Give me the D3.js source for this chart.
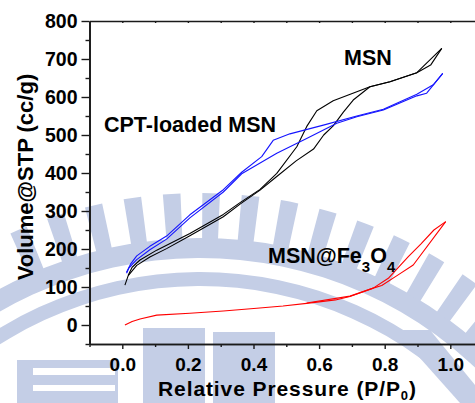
<!DOCTYPE html>
<html><head><meta charset="utf-8">
<script src="https://cdn.jsdelivr.net/npm/d3@7"></script>
<style>body{margin:0;background:#fff}svg{display:block}text{font-family:"Liberation Sans",Arial,sans-serif;font-weight:bold}</style>
</head><body>
<svg id="c" width="475" height="403"></svg>
<script>
// ---- data (P/P0, volume cc/g) ----
const xTickValues = [0, 0.2, 0.4, 0.6, 0.8, 1.0];
const yTickValues = [0, 100, 200, 300, 400, 500, 600, 700, 800];
const msnAds = [[0.008,105],[0.018,130],[0.044,157],[0.084,179],[0.135,201],[0.206,235],[0.308,285],[0.359,318],[0.42,355],[0.47,390],[0.53,432],[0.583,463],[0.614,500],[0.643,524],[0.674,560],[0.704,592],[0.755,627],[0.816,640],[0.898,664],[0.94,684],[0.974,728]];
const msnDes = [[0.974,728],[0.898,664],[0.816,640],[0.755,627],[0.695,607],[0.643,590],[0.593,564],[0.562,522],[0.532,469],[0.471,399],[0.42,357],[0.359,322],[0.308,291],[0.206,241],[0.105,197],[0.054,171],[0.03,152],[0.018,131]];
const cptAds = [[0.013,136],[0.02,150],[0.044,172],[0.084,198],[0.135,226],[0.206,282],[0.308,350],[0.364,398],[0.471,452],[0.562,491],[0.654,531],[0.715,548],[0.796,566],[0.898,603],[0.928,610],[0.977,662]];
const cptDes = [[0.977,662],[0.948,632],[0.898,607],[0.796,568],[0.715,550],[0.613,526],[0.511,503],[0.46,486],[0.425,443],[0.364,402],[0.308,356],[0.206,290],[0.135,234],[0.084,207],[0.044,182],[0.025,160],[0.013,139]];
const fe3o4Ads = [[0.008,0],[0.03,9],[0.054,16],[0.105,26],[0.206,31],[0.308,37],[0.41,44],[0.49,50],[0.562,57],[0.65,66],[0.694,75],[0.765,97],[0.791,104],[0.841,132],[0.887,158],[0.986,272]];
const fe3o4Des = [[0.986,272],[0.95,250],[0.91,213],[0.872,180],[0.811,123],[0.765,97],[0.694,76],[0.562,58]];
const seriesList = [
  {name:"MSN", color:"#000000", branches:[msnAds, msnDes]},
  {name:"CPT-loaded MSN", color:"#1414ff", branches:[cptAds, cptDes]},
  {name:"MSN@Fe3O4", color:"#ff0000", branches:[fe3o4Ads, fe3o4Des]}
];

const svg = d3.select("#c");
const x = d3.scaleLinear().domain([-0.1, 1.1]).range([89.5, 483.1]);
const y = d3.scaleLinear().domain([-50, 800]).range([344, 21]);

// ---- faint background watermark (decorative) ----
const wmColor = "#c4cee6";
const wm = svg.append("g").attr("fill", wmColor);
const wmArc = wm.append("g").attr("transform", "translate(200,658)");
wmArc.append("path").attr("d", d3.arc()({innerRadius:400, outerRadius:420, startAngle:-0.75, endAngle:0.95}));
wmArc.append("path").attr("d", d3.arc()({innerRadius:372, outerRadius:386, startAngle:-0.75, endAngle:0.95}));
d3.range(-0.42, 0.80, 0.085).forEach(a => {
  wmArc.append("path").attr("d", d3.arc()({innerRadius:419, outerRadius:465, startAngle:a, endAngle:a+0.038}));
});
wm.append("rect").attr("x",143).attr("y",328).attr("width",62).attr("height",80);
wm.append("rect").attr("x",213).attr("y",332).attr("width",62).attr("height",80);
wm.append("rect").attr("x",17).attr("y",360).attr("width",101).attr("height",50);
wm.append("rect").attr("x",33).attr("y",368).attr("width",82).attr("height",7).attr("fill","#fff");
wm.append("rect").attr("x",33).attr("y",385).attr("width",82).attr("height",6).attr("fill","#fff");
wm.append("path").attr("d","M395,330 L430,330 L475,385 L475,403 L460,403 Z");

// ---- axes ----
const axisColor = "#1a1a1a";
const gx = svg.append("g").attr("transform", `translate(0,${y(-50)})`)
  .call(d3.axisBottom(x).tickValues(xTickValues).tickFormat(d3.format(".1f")).tickSizeInner(5).tickSizeOuter(0).tickPadding(9));
const gxm = svg.append("g").attr("transform", `translate(0,${y(-50)})`)
  .call(d3.axisBottom(x).tickValues(d3.range(-0.1, 1.15, 0.2)).tickFormat("").tickSizeInner(3).tickSizeOuter(0));
const gt = svg.append("g").attr("transform", `translate(0,${y(800)})`)
  .call(d3.axisTop(x).tickValues(d3.range(0, 1.15, 0.1)).tickFormat("").tickSizeInner(-2).tickSizeOuter(0));
const gy = svg.append("g").attr("transform", `translate(${x(-0.1)},0)`)
  .call(d3.axisLeft(y).tickValues(yTickValues).tickSizeInner(8).tickSizeOuter(0).tickPadding(4));
const gym = svg.append("g").attr("transform", `translate(${x(-0.1)},0)`)
  .call(d3.axisLeft(y).tickValues(d3.range(-50, 800, 100)).tickFormat("").tickSizeInner(4).tickSizeOuter(0));
[gx, gxm, gt, gy, gym].forEach(g => {
  g.selectAll("path.domain").attr("stroke", axisColor).attr("stroke-width", 1.7);
  g.selectAll(".tick line").attr("stroke", axisColor).attr("stroke-width", 1.4);
  g.selectAll(".tick text").attr("font-size", 19.5).attr("fill", "#000")
    .attr("font-family", "Liberation Sans, Arial, sans-serif").attr("font-weight", "bold");
});
gx.selectAll(".tick text").attr("font-size", 19);

// ---- curves ----
const line = d3.line().x(d => x(d[0])).y(d => y(d[1]));
seriesList.forEach(s => {
  s.branches.forEach(b => {
    svg.append("path").attr("d", line(b)).attr("fill", "none")
      .attr("stroke", s.color).attr("stroke-width", 1.1).attr("stroke-linejoin", "round");
  });
});

// ---- labels ----
svg.append("text").attr("x", 344).attr("y", 65).attr("font-size", 21.5).text("MSN");
svg.append("text").attr("x", 104).attr("y", 132).attr("font-size", 21.5).text("CPT-loaded MSN");
const fe = svg.append("text").attr("x", 268).attr("y", 263).attr("font-size", 21.5);
fe.append("tspan").text("MSN@Fe");
fe.append("tspan").attr("font-size", 15).attr("dy", 9).text("3");
fe.append("tspan").attr("dy", -9).text("O");
fe.append("tspan").attr("font-size", 15).attr("dy", 9).text("4");

const xl = svg.append("text").attr("x", 158).attr("y", 395.5).attr("font-size", 21)
  .attr("textLength", 258).attr("lengthAdjust", "spacing");
xl.append("tspan").text("Relative Pressure (P/P");
xl.append("tspan").attr("font-size", 13).attr("dy", 4).text("0");
xl.append("tspan").attr("dy", -4).text(")");

svg.append("text").attr("transform", "translate(33,177) rotate(-90)")
  .attr("text-anchor", "middle").attr("font-size", 22).text("Volume@STP (cc/g)");
</script>
</body></html>
